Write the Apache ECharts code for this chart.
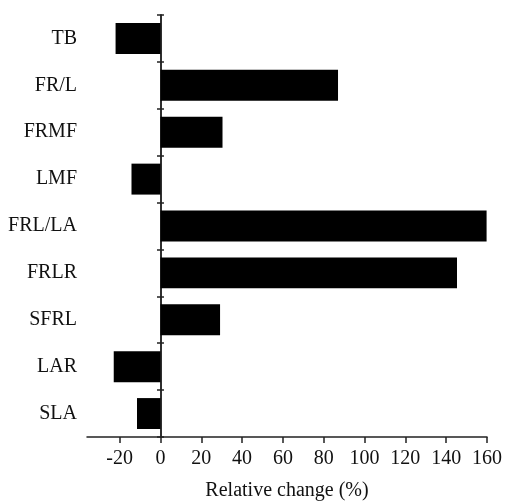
<!DOCTYPE html>
<html>
<head>
<meta charset="utf-8">
<script src="https://cdn.jsdelivr.net/npm/echarts@6/dist/echarts.min.js"></script>
<style>
html,body{margin:0;padding:0;background:#fff;}
#chart{width:505px;height:504px;}
</style>
</head>
<body>
<div id="chart"></div>
<script>
const categories = ['TB', 'FR/L', 'FRMF', 'LMF', 'FRL/LA', 'FRLR', 'SFRL', 'LAR', 'SLA'];
const values = [-22, 87, 30.4, -14.2, 159.8, 145.3, 29.2, -22.9, -11.5];
const xTicks = [-20, 0, 20, 40, 60, 80, 100, 120, 140, 160];
const xName = 'Relative change (%)';

const font = "'Liberation Serif', 'Times New Roman', serif";
const lineColor = '#222';
const chart = echarts.init(document.getElementById('chart'));
chart.setOption({
  animation: false,
  backgroundColor: '#fff',
  grid: { left: 87, right: 18, top: 15, bottom: 67, containLabel: false, outerBoundsMode: 'none' },
  xAxis: [{
    type: 'value',
    min: -36,
    max: 160,
    position: 'bottom',
    splitLine: { show: false },
    axisLine: { show: true, onZero: false, lineStyle: { color: lineColor, width: 1.5 } },
    axisTick: { show: true, length: 6, customValues: xTicks, lineStyle: { color: lineColor, width: 1.5 } },
    axisLabel: { customValues: xTicks, margin: 12, fontFamily: font, fontSize: 20, color: '#111' },
    name: xName,
    nameLocation: 'middle',
    nameGap: 44,
    nameTextStyle: { fontFamily: font, fontSize: 20, color: '#111' }
  }, {
    type: 'value',
    min: -36,
    max: 160,
    position: 'top',
    axisLine: { show: false, onZero: false },
    axisTick: { show: false },
    axisLabel: { show: false },
    splitLine: { show: false }
  }],
  yAxis: [{
    type: 'category',
    data: categories,
    inverse: true,
    position: 'left',
    axisLine: { show: true, onZero: true, onZeroAxisIndex: 0, lineStyle: { color: lineColor, width: 1.5 } },
    axisTick: { show: true, length: 3.5, lineStyle: { color: lineColor, width: 1.5 } },
    axisLabel: { margin: 10, fontFamily: font, fontSize: 20, color: '#111' },
    splitLine: { show: false }
  }, {
    type: 'category',
    data: categories,
    inverse: true,
    position: 'left',
    axisLine: { show: true, onZero: true, onZeroAxisIndex: 1, lineStyle: { color: lineColor, width: 1.5 } },
    axisTick: { show: true, inside: true, length: 3.5, lineStyle: { color: lineColor, width: 1.5 } },
    axisLabel: { show: false },
    splitLine: { show: false }
  }],
  series: [{
    type: 'bar',
    xAxisIndex: 0,
    yAxisIndex: 0,
    data: values,
    barWidth: '66%',
    itemStyle: { color: '#000' }
  }]
});
</script>
</body>
</html>
